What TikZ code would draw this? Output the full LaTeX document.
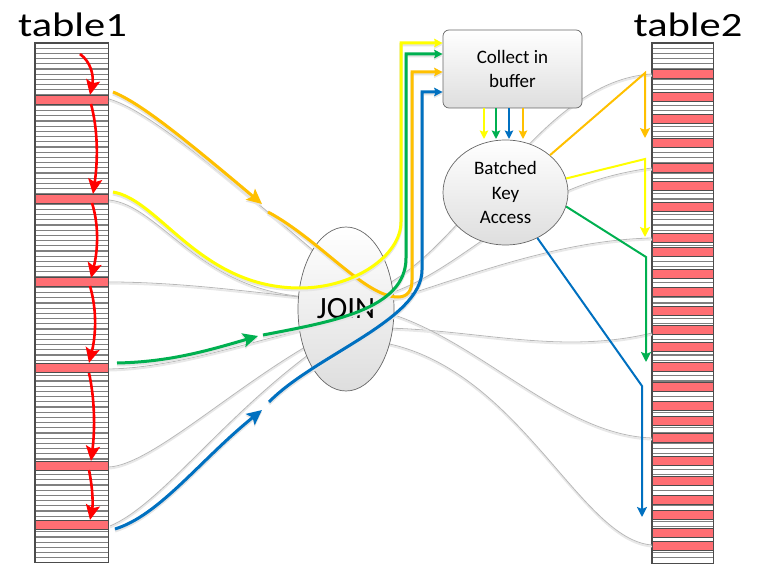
\documentclass[tikz,border=0pt]{standalone}
\usepackage{fontspec}
\usepackage{graphicx}
\setmainfont{Carlito}
\usetikzlibrary{arrows.meta,shapes.geometric}
\definecolor{cY}{RGB}{255,255,0}
\definecolor{cO}{RGB}{255,192,0}
\definecolor{cG}{RGB}{0,176,80}
\definecolor{cB}{RGB}{0,112,192}
\definecolor{cR}{RGB}{255,0,0}
\definecolor{rowred}{RGB}{255,110,115}
\begin{document}
\begin{tikzpicture}[x=1pt,y=-1pt,
  tblborder/.style={draw=black!70,line width=1.2pt},
  rowln/.style={draw=black!50,line width=1.2pt},
  redrow/.style={draw=black!70,line width=0.9pt,fill=rowred},
  grayln/.style={draw=black!28,line width=0.8pt,preaction={draw=black!9,line width=1.8pt,transform canvas={yshift=-1.6pt}}},
  shapethreed/.style={draw=black!60,line width=0.7pt,top color=white,bottom color=black!13},
  fatline/.style={line width=3pt,preaction={draw=black!10,line width=3.4pt,transform canvas={yshift=-1.8pt}}},
  thinline/.style={line width=2pt},
  bigtip/.style={-{Stealth[length=15pt,width=14pt,inset=3pt]}},
  redtip/.style={-{Stealth[length=15pt,width=14pt,inset=3pt]}},
  boxtip/.style={-{Stealth[length=8.5pt,width=8.5pt,inset=1.5pt]}},
  midtip/.style={-{Stealth[length=10pt,width=10pt,inset=2pt]}},
  lbl/.style={font=\fontsize{34}{34}\selectfont,anchor=base,inner sep=0pt}
]
\useasboundingbox (0,0) rectangle (758,564);

% ---------- labels ----------
\node[lbl] (lab1) at (72.5,37) {\scalebox{1.25}[1]{table1}};
\node[lbl] (lab2) at (688,37) {\scalebox{1.25}[1]{table2}};

% ---------- table1 ----------
\node[fill=white,minimum width=73pt,minimum height=519pt,inner sep=0pt,anchor=north west] (tA) at (35,43) {};
\foreach \k in {1,...,99} { \draw[rowln] (35,{43+5.2*\k}) -- (108,{43+5.2*\k}); }
\foreach \c in {100,198.5,282,368,465.5,524.5} { \draw[redrow] (35,{\c-4.5}) rectangle (108,{\c+4.5}); }
\draw[tblborder] (tA.north west) rectangle (tA.south east);

% ---------- table2 ----------
\node[fill=white,minimum width=61pt,minimum height=520pt,inner sep=0pt,anchor=north west] (tB) at (652,43) {};
\foreach \k in {1,...,99} { \draw[rowln] (652,{43+5.2*\k}) -- (713,{43+5.2*\k}); }
\foreach \c in {73.5,97,119,142.5,167.5,185.5,207,238,252,274,292,311,330,347,366.5,386.5,405.5,420.5,438,461,481,500,514.5,532.5,546}
  { \draw[redrow] (652,{\c-4.5}) rectangle (713,{\c+4.5}); }
\draw[tblborder] (tB.north west) rectangle (tB.south east);

% ---------- gray lines left ----------
\draw[grayln] (109,99) .. controls (140,108) and (190,145) .. (315,252);
\draw[grayln] (109,200) .. controls (160,205) and (200,292) .. (310,297);
\draw[grayln] (109,282) .. controls (180,282) and (250,292) .. (310,298);
\draw[grayln] (109,369) .. controls (170,368) and (240,345) .. (310,328);
\draw[grayln] (109,467) .. controls (150,465) and (230,390) .. (312,343);
\draw[grayln] (110,526) .. controls (160,505) and (220,420) .. (312,352);

% ---------- gray lines right ----------
\draw[grayln] (380,288) .. controls (470,245) and (540,80) .. (652,74);
\draw[grayln] (385,295) .. controls (470,268) and (520,185) .. (652,168);
\draw[grayln] (385,302) .. controls (470,275) and (560,240) .. (652,238);
\draw[grayln] (385,328) .. controls (480,330) and (560,355) .. (652,333);
\draw[grayln] (385,312) .. controls (480,340) and (560,435) .. (652,438);
\draw[grayln] (385,343) .. controls (520,370) and (580,540) .. (652,545);

% ---------- shapes ----------
\node[ellipse,shapethreed,minimum width=96pt,minimum height=164pt,inner sep=0pt,
      font=\fontsize{31}{31}\selectfont] (join) at (346,309) {JOIN};
\node[ellipse,shapethreed,minimum width=125pt,minimum height=105pt,inner sep=0pt,align=center,
      font=\fontsize{19}{24.5}\selectfont] (bka) at (505.5,192.5) {Batched\\Key\\Access};
\node[rectangle,rounded corners=6pt,shapethreed,minimum width=139pt,minimum height=78pt,inner sep=0pt,align=center,
      font=\fontsize{19}{24}\selectfont] (box) at (512.5,69) {Collect in\\buffer};

% ---------- red arrows in table1 ----------
\draw[cR,line width=2.6pt,redtip] (80,54) .. controls (91,62) and (94,76) .. (90,95);
\draw[cR,line width=2.6pt,redtip] (91,104) .. controls (98,130) and (98,160) .. (93,194);
\draw[cR,line width=2.6pt,redtip] (92,203) .. controls (99,225) and (98,250) .. (91,278);
\draw[cR,line width=2.6pt,redtip] (90,286) .. controls (97,310) and (96,335) .. (89,363);
\draw[cR,line width=2.6pt,redtip] (89,373) .. controls (95,400) and (95,430) .. (91,461);
\draw[cR,line width=2.6pt,redtip] (89,470) .. controls (93,490) and (93,505) .. (90,520);

% ---------- coloured flows table1 -> JOIN -> buffer ----------
% orange
\draw[cO,fatline,bigtip] (113,92) .. controls (140,103) and (180,135) .. (262,204);
\draw[cO,fatline,boxtip] (268,212) .. controls (320,240) and (365,297) .. (398,297)
   .. controls (408,297) and (412,290) .. (412,280) -- (412,72) -- (box.west |- 0,72);
% yellow
\draw[cY,fatline,boxtip] (113,192) .. controls (160,200) and (200,288) .. (300,288)
   .. controls (355,288) and (401,255) .. (401,222) -- (401,43) -- (box.west |- 0,43);
% green
\draw[cG,fatline,bigtip] (117,363) .. controls (170,362) and (210,350) .. (258,336);
\draw[cG,fatline,boxtip] (263,335) .. controls (330,322) and (406,310) .. (406,258) -- (406,54) -- (box.west |- 0,54);
% blue
\draw[cB,fatline,bigtip] (115,529) .. controls (160,515) and (200,460) .. (262,410);
\draw[cB,fatline,boxtip] (269,402) .. controls (315,355) and (422,320) .. (422,270) -- (422,92) -- (box.west |- 0,92);

% ---------- buffer -> BKA ----------
\draw[cY,thinline,boxtip] (box.south -| 484,0) -- (484,139);
\draw[cG,thinline,boxtip] (box.south -| 496,0) -- (496,139);
\draw[cB,thinline,boxtip] (box.south -| 509,0) -- (509,139);
\draw[cO,thinline,boxtip] (box.south -| 523,0) -- (523,139);

% ---------- BKA -> table2 ----------
\coordinate (oc) at (645,73);
\coordinate (yc) at (645,159);
\coordinate (gc) at (646,257);
\coordinate (bc) at (642,386);
\draw[cO,thinline,midtip] (bka.40) -- (oc) -- (645,138);
\draw[cY,thinline,midtip] (bka.13) -- (yc) -- (645,237);
\draw[cG,thinline,midtip] (bka.-13) -- (gc) -- (646,362);
\draw[cB,thinline,midtip] (bka.-55) -- (bc) -- (642,517);
\end{tikzpicture}
\end{document}
